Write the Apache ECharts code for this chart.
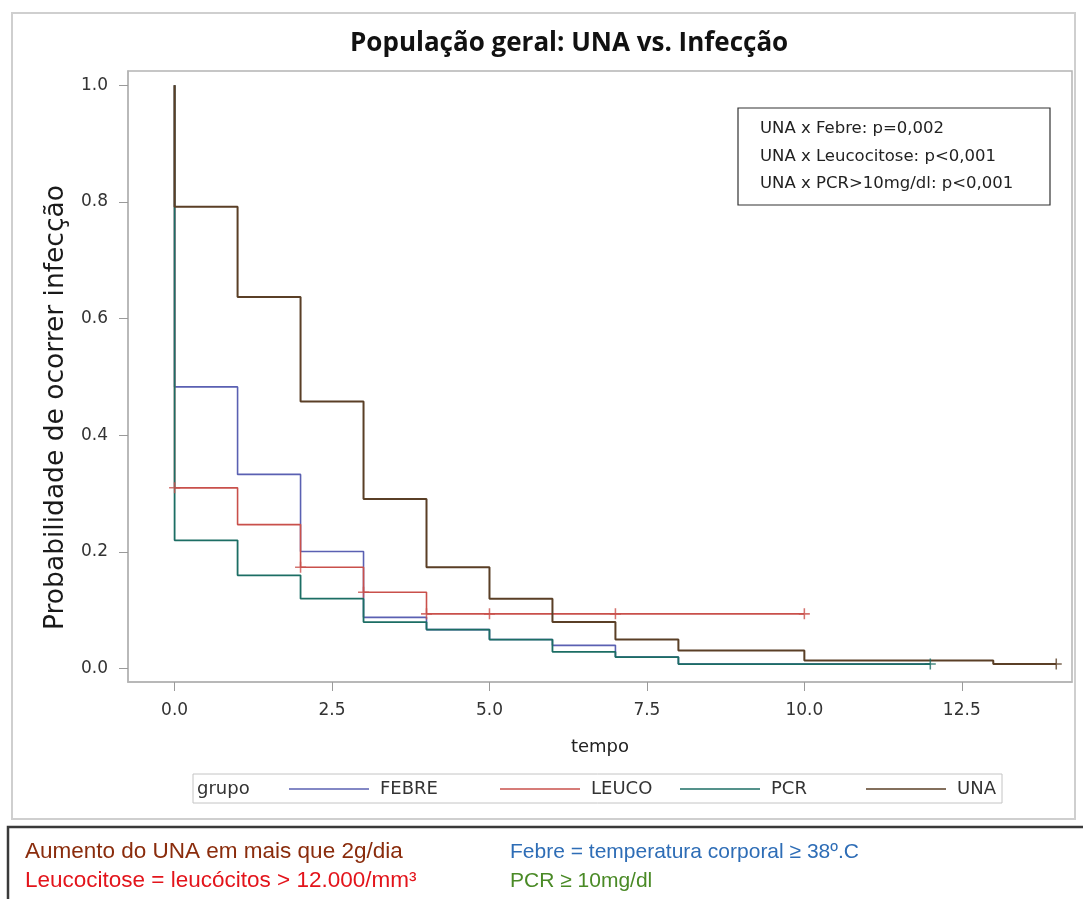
<!DOCTYPE html>
<html>
<head>
<meta charset="utf-8">
<script src="https://cdn.jsdelivr.net/npm/echarts@6/dist/echarts.min.js"></script>
<style>
html,body{margin:0;padding:0;background:#fff;}
#chart{width:1083px;height:899px;}
</style>
</head>
<body>
<div id="chart"></div>
<script>
// ---- data ----
const groups = ['FEBRE', 'LEUCO', 'PCR', 'UNA'];
const xTicks = [0, 2.5, 5, 7.5, 10, 12.5];
const yTicks = [0, 0.2, 0.4, 0.6, 0.8, 1.0];

// [tempo, probabilidade] step points (value holds until the next time)
const febre = [[0,1.0],[0,0.483],[1,0.333],[2,0.201],[3,0.088],[4,0.067],[5,0.050],[6,0.040],[7,0.020],[8,0.008],[12,0.008]];
const leuco = [[0,1.0],[0,0.310],[1,0.247],[2,0.174],[3,0.131],[4,0.094],[10,0.094]];
const pcr   = [[0,1.0],[0,0.220],[1,0.160],[2,0.120],[3,0.080],[4,0.067],[5,0.050],[6,0.029],[7,0.020],[8,0.008],[12,0.008]];
const una   = [[0,1.0],[0,0.792],[1,0.637],[2,0.458],[3,0.291],[4,0.174],[5,0.120],[6,0.080],[7,0.050],[8,0.031],[10,0.014],[13,0.008],[14,0.008]];

// censored observations (+ marks)
const leucoCensor = [[0,0.310],[2,0.174],[3,0.131],[4,0.094],[5,0.094],[7,0.094],[10,0.094]];
const pcrCensor   = [[12,0.008]];
const unaCensor   = [[14,0.008]];

const pValueLines = ['UNA x Febre: p=0,002', 'UNA x Leucocitose: p<0,001', 'UNA x PCR>10mg/dl: p<0,001'];
const noteLeft  = ['Aumento do UNA em mais que 2g/dia', 'Leucocitose = leucócitos > 12.000/mm³'];
const noteRight = ['Febre = temperatura corporal ≥ 38º.C', 'PCR ≥ 10mg/dl'];

// ---- styles ----
const colors = {FEBRE:'#5a60b2', LEUCO:'#c9504b', PCR:'#1c6e64', UNA:'#5a3f26'};
const AXFONT = 'DejaVu Sans';
const NOTEFONT = 'Liberation Sans Narrow, Liberation Sans';
const plusPath = 'path://M4.3,0H5.7V10H4.3ZM0,4.3H10V5.7H0Z';

const chart = echarts.init(document.getElementById('chart'), null, {renderer:'canvas'});

function stepSeries(name, data, width){
  return {name, type:'line', step:'end', data, symbol:'none', showSymbol:false,
          lineStyle:{color:colors[name], width}, itemStyle:{color:colors[name]},
          animation:false, z:3};
}
function censorSeries(name, data){
  return {name: name + ' censor', type:'scatter', data, symbol:plusPath, symbolSize:11,
          itemStyle:{color:colors[name]}, animation:false, z:4, silent:true};
}

const legendLefts = [289, 500, 680, 866];
const legends = groups.map((g, i) => ({
  data:[g], left:legendLefts[i], top:779, padding:0, orient:'horizontal',
  icon:'rect', itemWidth:80, itemHeight:1.6, selectedMode:false,
  textStyle:{fontFamily:AXFONT, fontSize:18, color:'#333', lineHeight:20, padding:[0,0,0,6]}
}));

const option = {
  animation:false,
  backgroundColor:'#ffffff',
  title:{
    text:'População geral: UNA vs. Infecção',
    left:350, top:31, padding:0,
    textStyle:{fontFamily:'Open Sans', fontWeight:'bold', fontSize:26, color:'#111'}
  },
  legend: legends,
  grid:{left:128, right:11, top:71, bottom:217, show:true, borderColor:'#b4b4b4', borderWidth:1.5, backgroundColor:'#fff'},
  xAxis:{
    type:'value', min:-0.74, max:14.25,
    name:'tempo', nameLocation:'middle', nameGap:56,
    nameTextStyle:{fontFamily:AXFONT, fontSize:18, color:'#222'},
    axisLine:{show:true, onZero:false, lineStyle:{color:'#b4b4b4', width:1.5}},
    axisTick:{show:true, length:9, customValues:xTicks, lineStyle:{color:'#9a9a9a'}},
    axisLabel:{customValues:xTicks, margin:20, fontFamily:AXFONT, fontSize:17, color:'#333',
               formatter:v => v.toFixed(1)},
    splitLine:{show:false}
  },
  yAxis:{
    type:'value', min:-0.0228, max:1.0245,
    name:'Probabilidade de ocorrer infecção', nameLocation:'middle', nameGap:56, nameRotate:90,
    nameTextStyle:{fontFamily:AXFONT, fontSize:26.5, color:'#1a1a1a', padding:[0,62,0,0]},
    axisLine:{show:true, onZero:false, lineStyle:{color:'#b4b4b4', width:1.5}},
    axisTick:{show:true, length:9, customValues:yTicks, lineStyle:{color:'#9a9a9a'}},
    axisLabel:{customValues:yTicks, margin:20, fontFamily:AXFONT, fontSize:17, color:'#333',
               formatter:v => v.toFixed(1)},
    splitLine:{show:false}
  },
  series:[
    stepSeries('FEBRE', febre, 1.6),
    stepSeries('LEUCO', leuco, 1.6),
    stepSeries('PCR', pcr, 1.8),
    stepSeries('UNA', una, 2),
    censorSeries('LEUCO', leucoCensor),
    censorSeries('PCR', pcrCensor),
    censorSeries('UNA', unaCensor)
  ],
  graphic:[
    // outer light frame
    {type:'rect', shape:{x:12, y:13, width:1063, height:806}, style:{fill:'none', stroke:'#cfcfcf', lineWidth:2}, z:-10, silent:true},
    // bottom notes box
    {type:'polyline', shape:{points:[[8,899],[8,827],[1083,827]]}, style:{fill:'none', stroke:'#3a3a3a', lineWidth:2.5}, silent:true},
    // legend frame + label
    {type:'rect', shape:{x:193, y:774, width:809, height:29}, style:{fill:'#fff', stroke:'#c4c4c4', lineWidth:1}, z:-1, silent:true},
    {type:'text', x:197, y:789, style:{text:'grupo', fontFamily:AXFONT, fontSize:18, fill:'#333', verticalAlign:'middle'}, silent:true},
    // p-value box
    {type:'rect', shape:{x:738, y:108, width:312, height:97}, style:{fill:'#fff', stroke:'#333', lineWidth:1.2}, z:10, silent:true},
    {type:'text', x:760, y:129, z:11, style:{text:pValueLines[0], fontFamily:AXFONT, fontSize:16.5, fill:'#222', verticalAlign:'middle'}, silent:true},
    {type:'text', x:760, y:157, z:11, style:{text:pValueLines[1], fontFamily:AXFONT, fontSize:16.5, fill:'#222', verticalAlign:'middle'}, silent:true},
    {type:'text', x:760, y:184, z:11, style:{text:pValueLines[2], fontFamily:AXFONT, fontSize:16.5, fill:'#222', verticalAlign:'middle'}, silent:true},
    // notes
    {type:'text', x:25, y:852, style:{text:noteLeft[0], fontFamily:NOTEFONT, fontSize:22.5, fill:'#8a2c0c', verticalAlign:'middle'}, silent:true},
    {type:'text', x:25, y:881, style:{text:noteLeft[1], fontFamily:NOTEFONT, fontSize:22.5, fill:'#e3141b', verticalAlign:'middle'}, silent:true},
    {type:'text', x:510, y:852, style:{text:noteRight[0], fontFamily:NOTEFONT, fontSize:21, fill:'#2e6db6', verticalAlign:'middle'}, silent:true},
    {type:'text', x:510, y:881, style:{text:noteRight[1], fontFamily:NOTEFONT, fontSize:21, fill:'#4a8a26', verticalAlign:'middle'}, silent:true}
  ]
};
chart.setOption(option);
</script>
</body>
</html>
